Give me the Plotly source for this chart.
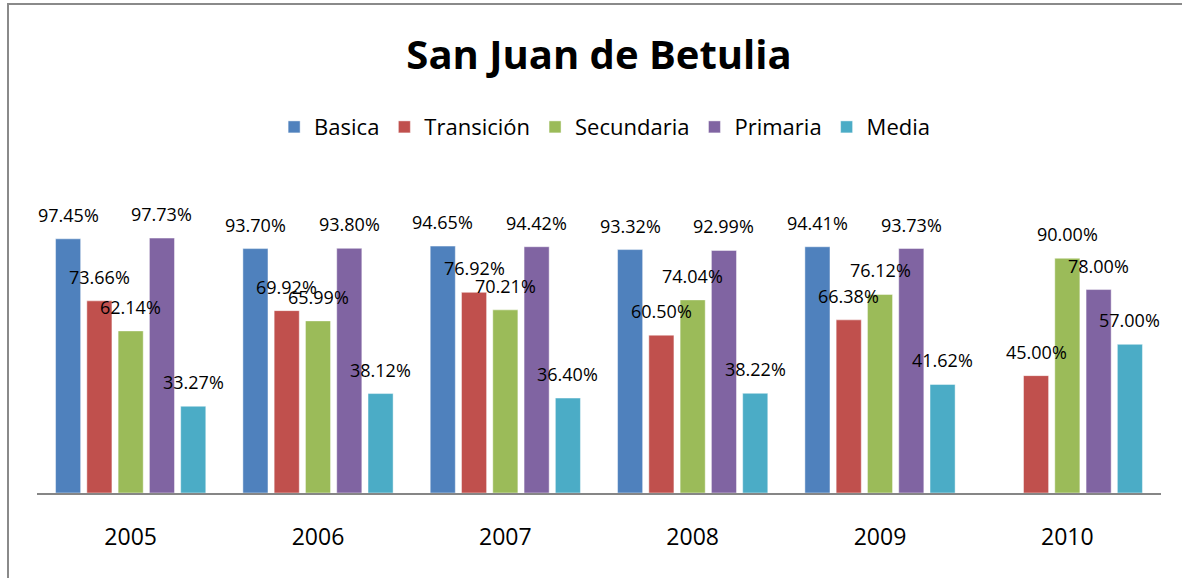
import plotly.graph_objects as go

years = ["2005", "2006", "2007", "2008", "2009", "2010"]
basica = [97.45, 93.70, 94.65, 93.32, 94.41, None]
transicion = [73.66, 69.92, 76.92, 60.50, 66.38, 45.00]
secundaria = [62.14, 65.99, 70.21, 74.04, 76.12, 90.00]
primaria = [97.73, 93.80, 94.42, 92.99, 93.73, 78.00]
media = [33.27, 38.12, 36.40, 38.22, 41.62, 57.00]

series = [
    ("Basica", basica, "#4F81BD"),
    ("Transición", transicion, "#C0504D"),
    ("Secundaria", secundaria, "#9BBB59"),
    ("Primaria", primaria, "#8064A2"),
    ("Media", media, "#4BACC6"),
]

font = "Open Sans"
pitch = 0.167
fig = go.Figure()
annots = []
for k, (name, vals, color) in enumerate(series):
    xs = [i + (k - 2) * pitch for i in range(len(years))]
    fig.add_trace(go.Bar(x=xs, y=vals, name=name, width=0.134,
                         marker=dict(color=color, line=dict(color="rgba(255,255,255,0.45)", width=1))))
    for x, v in zip(xs, vals):
        if v is None:
            continue
        annots.append(dict(x=x, y=v, text=f"{v:.2f}%", showarrow=False, yanchor="bottom",
                           yshift=10, font=dict(family=font, size=18, color="black")))

fig.update_layout(
    width=1182, height=578,
    margin=dict(l=37, r=21, t=180, b=85),
    paper_bgcolor="white", plot_bgcolor="white",
    barmode="overlay",
    title=dict(text="<b>San Juan de Betulia</b>", x=0.5, xref="paper", y=1 - 55 / 578,
               yanchor="middle", font=dict(family=font, size=40, color="black")),
    legend=dict(orientation="h", x=0.505, xanchor="center", y=1.169, yanchor="middle",
                font=dict(family=font, size=22, color="black"), traceorder="normal"),
    annotations=annots,
    showlegend=True,
)
fig.update_xaxes(range=[-0.5, 5.5], tickvals=list(range(len(years))), ticktext=years,
                 showgrid=False, zeroline=False, showline=True, linecolor="#868686", linewidth=2,
                 ticks="", ticklabelstandoff=22, tickfont=dict(family=font, size=23, color="black"))
fig.update_yaxes(range=[0, 120], visible=False, showgrid=False, zeroline=False)

# chart border (only left and top visible in the frame)
fig.add_shape(type="rect", xref="paper", yref="paper", x0=(8 - 37) / 1124, x1=1.2,
              y0=-0.6, y1=(493 - 4) / 313, line=dict(color="#8a8a8a", width=2), layer="below")

fig.write_html("out.html", config={"displayModeBar": False},
               post_script="document.body.style.margin='0';document.body.style.overflow='hidden';")
